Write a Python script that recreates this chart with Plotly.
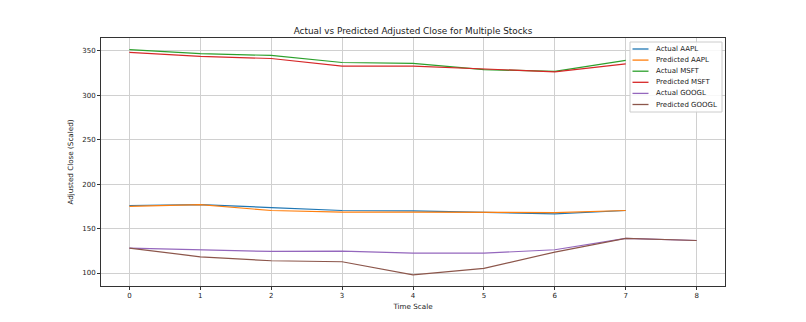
import plotly.graph_objects as go

time_steps = [0, 1, 2, 3, 4, 5, 6, 7, 8]

actual_aapl = [176.0, 177.0, 173.7, 170.4, 170.0, 168.0, 166.7, 170.4]
predicted_aapl = [175.0, 177.0, 170.4, 168.6, 168.6, 168.0, 168.0, 170.4]
actual_msft = [351.5, 347.0, 345.0, 337.0, 336.0, 329.0, 327.0, 339.5]
predicted_msft = [348.5, 344.0, 341.5, 333.0, 333.0, 329.5, 326.5, 335.5]
actual_googl = [128.0, 126.5, 124.3, 124.6, 122.4, 122.4, 126.2, 139.0, 136.6]
predicted_googl = [128.0, 118.3, 113.8, 112.7, 98.0, 105.2, 123.6, 139.0, 136.6]

series = [
    ("Actual AAPL", actual_aapl, "#1f77b4"),
    ("Predicted AAPL", predicted_aapl, "#ff7f0e"),
    ("Actual MSFT", actual_msft, "#2ca02c"),
    ("Predicted MSFT", predicted_msft, "#d62728"),
    ("Actual GOOGL", actual_googl, "#9467bd"),
    ("Predicted GOOGL", predicted_googl, "#8c564b"),
]

W, H = 806, 322
L, R, T, B = 101, 725, 38, 286  # plot area in pixels
font = "DejaVu Sans"
txt = "#222222"

fig = go.Figure()
for name, vals, color in series:
    fig.add_trace(go.Scatter(
        x=time_steps[:len(vals)], y=vals, mode="lines", name=name,
        line=dict(color=color, width=1.2), showlegend=False,
    ))


def px_x(px):
    return (px - L) / (R - L)


def px_y(py):
    return (B - py) / (B - T)


# compact legend box in the upper-right corner
shapes = [dict(type="rect", xref="paper", yref="paper",
               x0=px_x(630), x1=px_x(722), y0=px_y(112), y1=px_y(42),
               line=dict(color="#cccccc", width=1), fillcolor="rgba(255,255,255,0.85)",
               layer="above")]
annotations = []
for i, (name, _, color) in enumerate(series):
    cy = 49 + i * 11.1
    shapes.append(dict(type="line", xref="paper", yref="paper",
                       x0=px_x(632.5), x1=px_x(648.5), y0=px_y(cy), y1=px_y(cy),
                       line=dict(color=color, width=1.3), layer="above"))
    annotations.append(dict(xref="paper", yref="paper", x=px_x(654), y=px_y(cy),
                            text=name, showarrow=False, xanchor="left", yanchor="middle",
                            font=dict(family=font, size=7, color=txt)))

axis_common = dict(
    showline=True, linecolor="#333333", linewidth=1, mirror=True,
    showgrid=True, gridcolor="#d0d0d0", gridwidth=1,
    ticks="outside", ticklen=3, tickcolor="#333333", tickwidth=1,
    zeroline=False, tickfont=dict(family=font, size=7, color=txt),
)

fig.update_layout(
    width=W, height=H,
    margin=dict(l=L, r=W - R, t=T, b=H - B),
    paper_bgcolor="white", plot_bgcolor="white",
    title=dict(text="Actual vs Predicted Adjusted Close for Multiple Stocks",
               x=0.5, xanchor="center", xref="paper", y=1 - 31 / H, yanchor="middle",
               font=dict(family=font, size=8.9, color=txt)),
    xaxis=dict(range=[-0.4, 8.4], tickvals=time_steps,
               title=dict(text="Time Scale", font=dict(family=font, size=7.2, color=txt), standoff=4),
               **axis_common),
    yaxis=dict(range=[85.4, 364.6], tickvals=[100, 150, 200, 250, 300, 350],
               title=dict(text="Adjusted Close (Scaled)", font=dict(family=font, size=7.2, color=txt), standoff=7),
               **axis_common),
    shapes=shapes,
    annotations=annotations,
    showlegend=False,
)

fig.write_html("out.html")
